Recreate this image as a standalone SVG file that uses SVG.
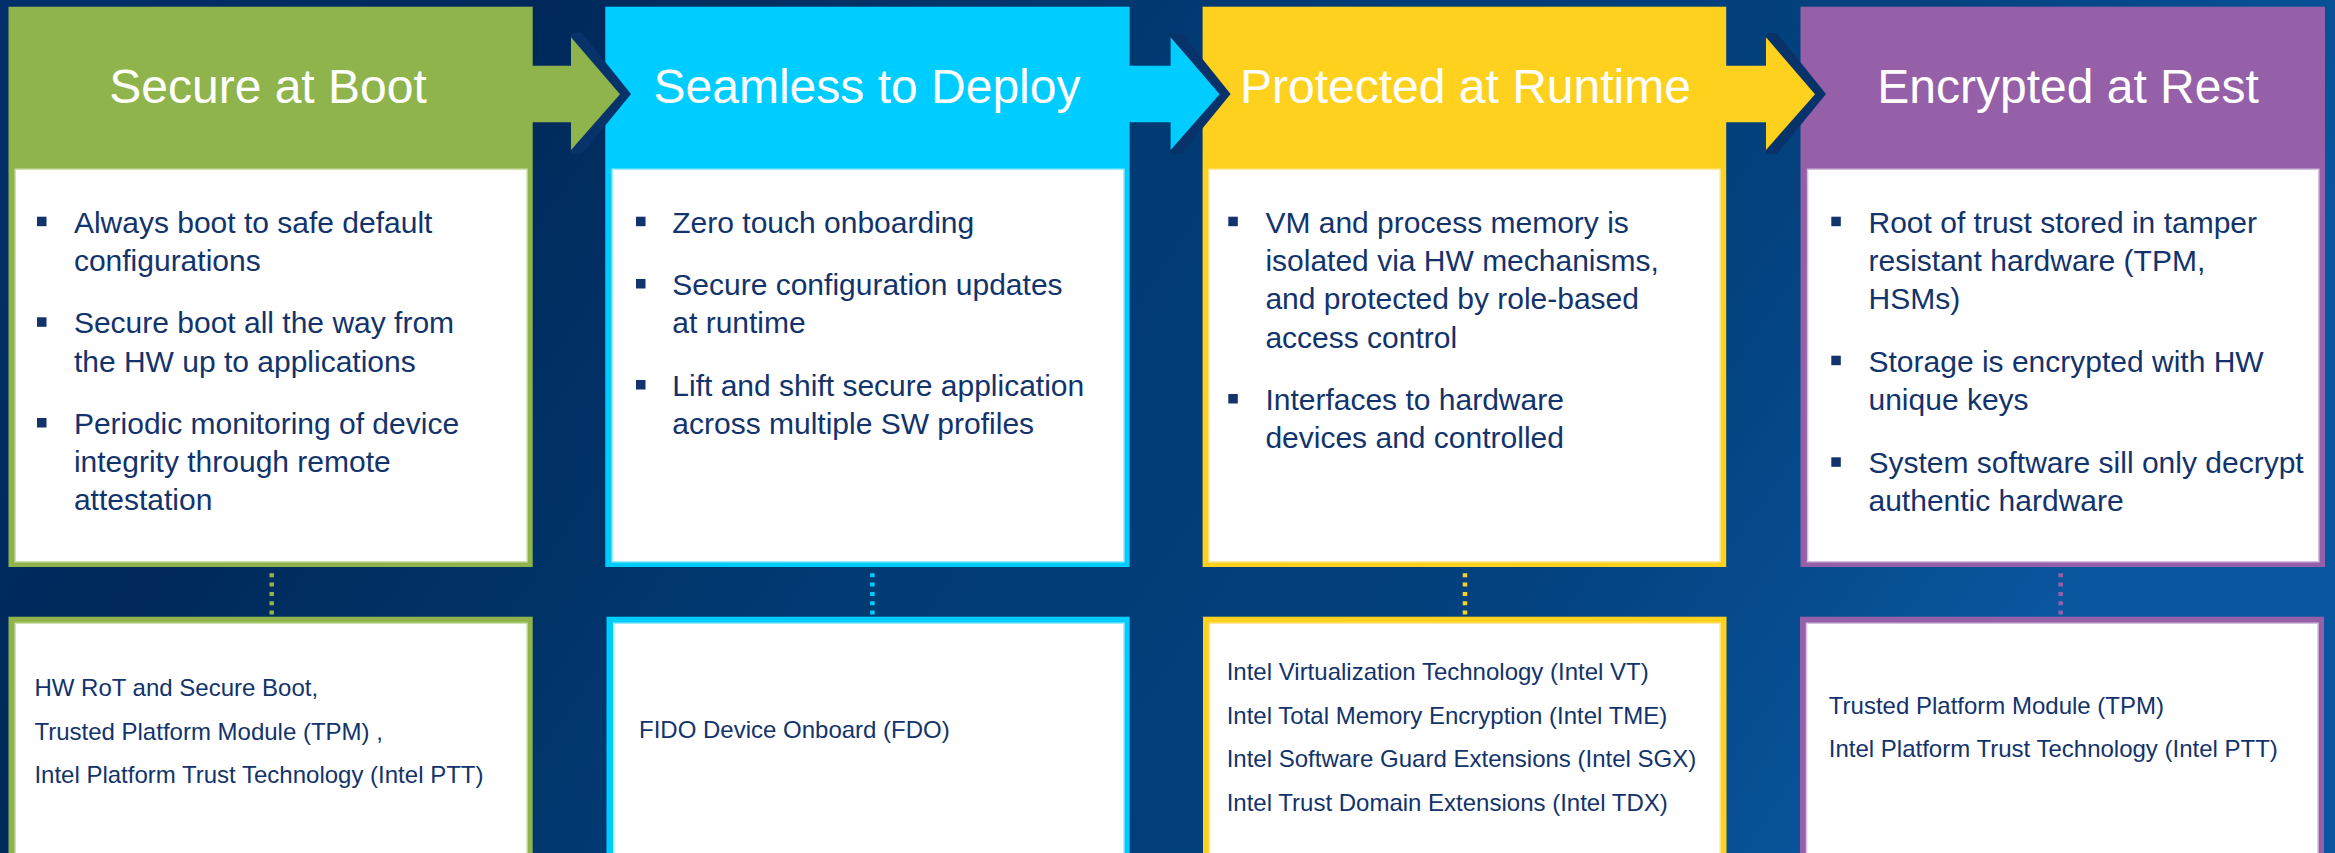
<svg xmlns="http://www.w3.org/2000/svg" width="2335" height="853" viewBox="0 0 2335 853">
  <defs>
    <linearGradient id="bg" x1="0" y1="0" x2="1" y2="0.25">
      <stop offset="0" stop-color="#01306a"/>
      <stop offset="0.22" stop-color="#00295a"/>
      <stop offset="0.5" stop-color="#023a73"/>
      <stop offset="0.78" stop-color="#03427f"/>
      <stop offset="1" stop-color="#0a569f"/>
    </linearGradient>
    <style>
      .title { font-family: "Liberation Sans", Arial, sans-serif; font-size: 48px; fill: #ffffff; text-anchor: middle; }
      .body { font-family: "Liberation Sans", Arial, sans-serif; font-size: 30px; fill: #12336b; }
      .small { font-family: "Liberation Sans", Arial, sans-serif; font-size: 24px; fill: #12336b; }
      .bullet { fill: #12336b; }
      .inner { fill: #ffffff; stroke-width: 1.5; }
      .g { fill: #8fb44b; } .gl { stroke: #cfe0b0; }
      .c { fill: #00cdff; } .cl { stroke: #9eeaff; }
      .y { fill: #fed11f; } .yl { stroke: #ffeaa0; }
      .p { fill: #9560a8; } .pl { stroke: #d4bfdc; }
      .shadow { fill: #08336a; }
      .dots { stroke-width: 4.5; stroke-dasharray: 4 5.3; fill: none; }
    </style>
  </defs>

  <rect x="0" y="0" width="2335" height="853" fill="url(#bg)"/>

  <!-- Upper panels -->
  <g id="secure-at-boot">
    <rect class="g" x="8.5" y="6.7" width="524.2" height="560.3"/>
    <rect class="inner gl" x="15.3" y="169.3" width="511.7" height="392.4"/>
    <text class="title" x="268" y="102.7">Secure at Boot</text>
    <rect class="bullet" x="37" y="216.7" width="9.5" height="9.5"/>
    <rect class="bullet" x="37" y="317.3" width="9.5" height="9.5"/>
    <rect class="bullet" x="37" y="418" width="9.5" height="9.5"/>
    <text class="body" x="73.9" y="232.7">Always boot to safe default</text>
    <text class="body" x="73.9" y="271">configurations</text>
    <text class="body" x="73.9" y="333.3">Secure boot all the way from</text>
    <text class="body" x="73.9" y="371.7">the HW up to applications</text>
    <text class="body" x="73.9" y="434">Periodic monitoring of device</text>
    <text class="body" x="73.9" y="472.3">integrity through remote</text>
    <text class="body" x="73.9" y="510">attestation</text>
  </g>

  <g id="seamless-to-deploy">
    <rect class="c" x="605.3" y="6.7" width="524.3" height="560.3"/>
    <rect class="inner cl" x="612.2" y="169.3" width="511.7" height="392.4"/>
    <text class="title" x="867" y="102.7">Seamless to Deploy</text>
    <rect class="bullet" x="636" y="216.7" width="9.5" height="9.5"/>
    <rect class="bullet" x="636" y="279" width="9.5" height="9.5"/>
    <rect class="bullet" x="636" y="380" width="9.5" height="9.5"/>
    <text class="body" x="672.3" y="232.7">Zero touch onboarding</text>
    <text class="body" x="672.3" y="295">Secure configuration updates</text>
    <text class="body" x="672.3" y="332.7">at runtime</text>
    <text class="body" x="672.3" y="396">Lift and shift secure application</text>
    <text class="body" x="672.3" y="434">across multiple SW profiles</text>
  </g>

  <g id="protected-at-runtime">
    <rect class="y" x="1202.6" y="6.7" width="523.6" height="560.3"/>
    <rect class="inner yl" x="1209" y="169.3" width="511" height="392.4"/>
    <text class="title" x="1465.5" y="102.7">Protected at Runtime</text>
    <rect class="bullet" x="1228.3" y="216.7" width="9.5" height="9.5"/>
    <rect class="bullet" x="1228.3" y="394" width="9.5" height="9.5"/>
    <text class="body" x="1265.4" y="232.7">VM and process memory is</text>
    <text class="body" x="1265.4" y="271">isolated via HW mechanisms,</text>
    <text class="body" x="1265.4" y="309">and protected by role-based</text>
    <text class="body" x="1265.4" y="347.7">access control</text>
    <text class="body" x="1265.4" y="410">Interfaces to hardware</text>
    <text class="body" x="1265.4" y="448.3">devices and controlled</text>
  </g>

  <g id="encrypted-at-rest">
    <rect class="p" x="1800.5" y="6.7" width="524.5" height="560.3"/>
    <rect class="inner pl" x="1807.6" y="169.3" width="511.2" height="392.4"/>
    <text class="title" x="2068" y="102.7">Encrypted at Rest</text>
    <rect class="bullet" x="1831.3" y="216.7" width="9.5" height="9.5"/>
    <rect class="bullet" x="1831.3" y="355.7" width="9.5" height="9.5"/>
    <rect class="bullet" x="1831.3" y="457.3" width="9.5" height="9.5"/>
    <text class="body" x="1868.5" y="232.7">Root of trust stored in tamper</text>
    <text class="body" x="1868.5" y="271">resistant hardware (TPM,</text>
    <text class="body" x="1868.5" y="309">HSMs)</text>
    <text class="body" x="1868.5" y="371.7">Storage is encrypted with HW</text>
    <text class="body" x="1868.5" y="410">unique keys</text>
    <text class="body" x="1868.5" y="473.3">System software sill only decrypt</text>
    <text class="body" x="1868.5" y="510.7">authentic hardware</text>
  </g>

  <!-- Lower panels -->
  <g id="boot-technologies">
    <rect class="g" x="8.5" y="616.7" width="524.2" height="250"/>
    <rect class="inner gl" x="15.3" y="623.3" width="511.7" height="250"/>
    <text class="small" x="34.4" y="696">HW RoT and Secure Boot,</text>
    <text class="small" x="34.4" y="740">Trusted Platform Module (TPM) ,</text>
    <text class="small" x="34.4" y="783.3">Intel Platform Trust Technology (Intel PTT)</text>
  </g>

  <g id="deploy-technologies">
    <rect class="c" x="606.5" y="616.7" width="523.1" height="250"/>
    <rect class="inner cl" x="613.7" y="623.3" width="510.2" height="250"/>
    <text class="small" x="639" y="737.7">FIDO Device Onboard (FDO)</text>
  </g>

  <g id="runtime-technologies">
    <rect class="y" x="1203" y="616.7" width="523.5" height="250"/>
    <rect class="inner yl" x="1209.5" y="623.3" width="510.5" height="250"/>
    <text class="small" x="1226.7" y="680">Intel Virtualization Technology (Intel VT)</text>
    <text class="small" x="1226.7" y="724">Intel Total Memory Encryption (Intel TME)</text>
    <text class="small" x="1226.7" y="767.3">Intel Software Guard Extensions (Intel SGX)</text>
    <text class="small" x="1226.7" y="810.7">Intel Trust Domain Extensions (Intel TDX)</text>
  </g>

  <g id="rest-technologies">
    <rect class="p" x="1800" y="616.7" width="524" height="250"/>
    <rect class="inner pl" x="1806.5" y="623.3" width="511.5" height="250"/>
    <text class="small" x="1828.8" y="714">Trusted Platform Module (TPM)</text>
    <text class="small" x="1828.8" y="757.3">Intel Platform Trust Technology (Intel PTT)</text>
  </g>

  <!-- Connectors -->
  <g id="connectors">
    <!-- flow arrows with dark chevron edge -->
    <polygon class="shadow" points="571,33 582,33 631,94 582,154 571,154"/>
    <polygon class="g" points="522,65.7 571,65.7 571,37.3 620,94.3 571,150 571,122.3 522,122.3"/>

    <polygon class="shadow" points="1170.6,33 1181.6,33 1230.6,94 1181.6,154 1170.6,154"/>
    <polygon class="c" points="1122,65.7 1170.6,65.7 1170.6,37.3 1219.6,94.3 1170.6,150 1170.6,122.3 1122,122.3"/>

    <polygon class="shadow" points="1766,33 1777,33 1826,94 1777,154 1766,154"/>
    <polygon class="y" points="1718,65.7 1766,65.7 1766,37.3 1815,94.3 1766,150 1766,122.3 1718,122.3"/>

    <!-- dotted links upper to lower -->
    <line class="dots" x1="271.7" y1="573.3" x2="271.7" y2="615" stroke="#8fb44b"/>
    <line class="dots" x1="872.4" y1="573.3" x2="872.4" y2="615" stroke="#00cdff"/>
    <line class="dots" x1="1465" y1="573.3" x2="1465" y2="615" stroke="#fed11f"/>
    <line class="dots" x1="2060.7" y1="573.3" x2="2060.7" y2="615" stroke="#9560a8"/>
  </g>
</svg>
